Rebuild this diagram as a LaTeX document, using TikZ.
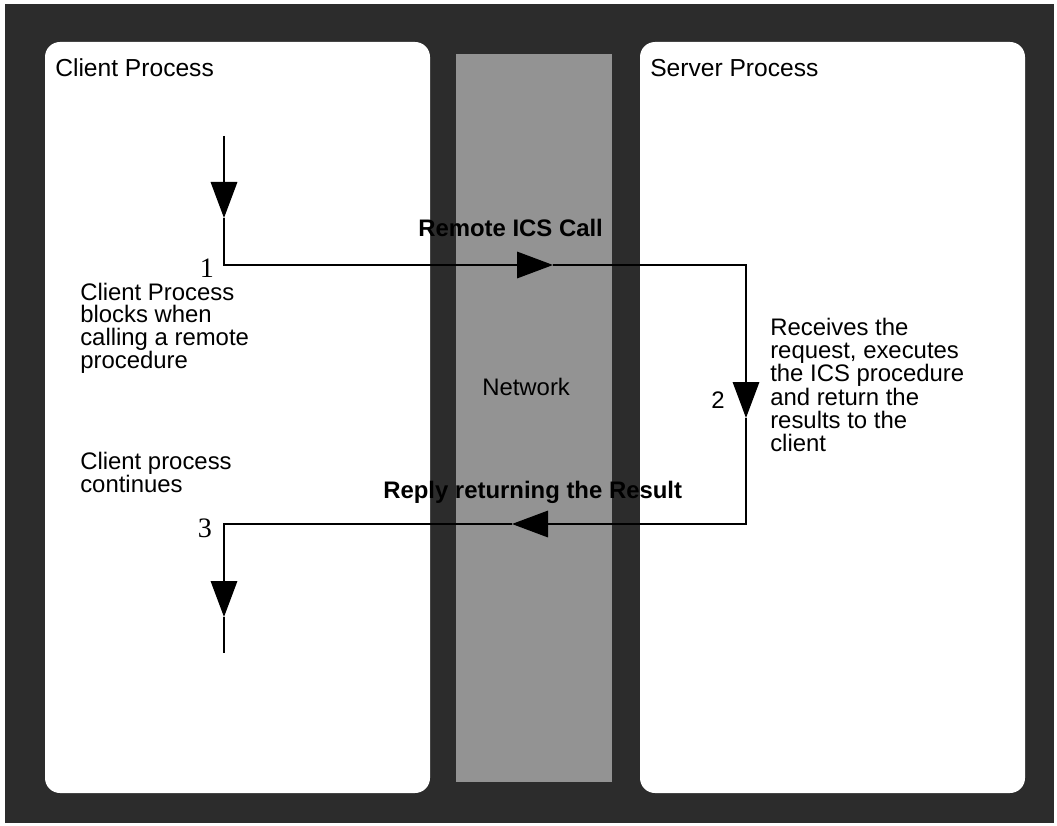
\documentclass[tikz,border=0pt]{standalone}
\usepackage{fontspec}
\setmainfont{Liberation Sans}
\newfontfamily\serifnum{Liberation Serif}
\usetikzlibrary{arrows.meta,fit}
\definecolor{backdrop}{HTML}{2C2C2C}
\definecolor{netgray}{HTML}{939393}

\begin{document}
\begin{tikzpicture}[x=0.25mm, y=-0.25mm,
    panel/.style={rounded corners=3.75mm, fill=white, draw=none, inner sep=0pt},
    net/.style={fill=netgray, draw=none, inner sep=0pt},
    title/.style={anchor=base west, inner sep=0pt, font=\fontsize{17.5}{20}\selectfont},
    note/.style={anchor=north west, inner sep=0pt, align=left,
                 font=\fontsize{17}{16.5}\selectfont},
    msg/.style={anchor=base west, inner sep=0pt, font=\bfseries\fontsize{17}{20}\selectfont},
    stepno/.style={anchor=base, inner sep=0pt, font=\serifnum\fontsize{20}{20}\selectfont},
    wire/.style={line width=0.5mm, black},
    flow/.style={wire, -{Triangle[length=9mm, width=6.6mm]}},
  ]
    \useasboundingbox (0,0) rectangle (1057,826);
    \fill[white] (0,0) rectangle (1057,826);
    \fill[backdrop] (5,4) rectangle (1054,823);

    % the two processes and the network between them
    \node[panel, fit={(45,42) (430,793)}] (client) {};
    \node[panel, fit={(640,42) (1025,793)}] (server) {};
    \node[net, fit={(456,54) (612,782)}] (network) {};

    \node[title] (ctitle) at (55,77) {Client Process};
    \node[title] (stitle) at (650,77) {Server Process};
    \node[anchor=base west, inner sep=0pt, font=\fontsize{17}{20}\selectfont]
       (netlbl) at (482,395) {Network};

    % corners and arrow tips of the call / reply loop
    \coordinate (cstart) at (224,136);
    \coordinate (a1) at (224,218);
    \coordinate (c1) at (224,265);
    \coordinate (a2) at (553,265);
    \coordinate (s1) at (746,265);
    \coordinate (a3) at (746,418);
    \coordinate (s2) at (746,524);
    \coordinate (a4) at (512,524);
    \coordinate (c3) at (224,524);
    \coordinate (a5) at (224,617);
    \coordinate (cend) at (224,653);

    \draw[flow] (cstart) -- (a1);
    \draw[flow] (a1) -- (c1) -- (a2);
    \draw[flow] (a2) -- (s1) -- (a3);
    \draw[flow] (a3) -- (s2) -- (a4);
    \draw[flow] (a4) -- (c3) -- (a5);
    \draw[wire] (a5) -- (cend);

    \node[msg] (call) at (418,237) {Remote ICS Call};
    \node[msg] (reply) at (383,498) {Reply returning the Result};

    \node[stepno] (n1) at (207,277) {1};
    \node[stepno] (n3) at (205,537) {3};
    \node[anchor=base, inner sep=0pt, font=\fontsize{17}{20}\selectfont]
       (n2) at (718,408) {2};

    \node[note, font=\fontsize{17}{15.8}\selectfont] (blocks) at (80,283)
       {Client Process\\blocks when\\calling a remote\\procedure};
    \node[note] (cont) at (80,452) {Client process\\continues};
    \node[note] (exec) at (770,318)
       {Receives the\\request, executes\\the ICS procedure\\and return the\\results to the\\client};
\end{tikzpicture}
\end{document}
